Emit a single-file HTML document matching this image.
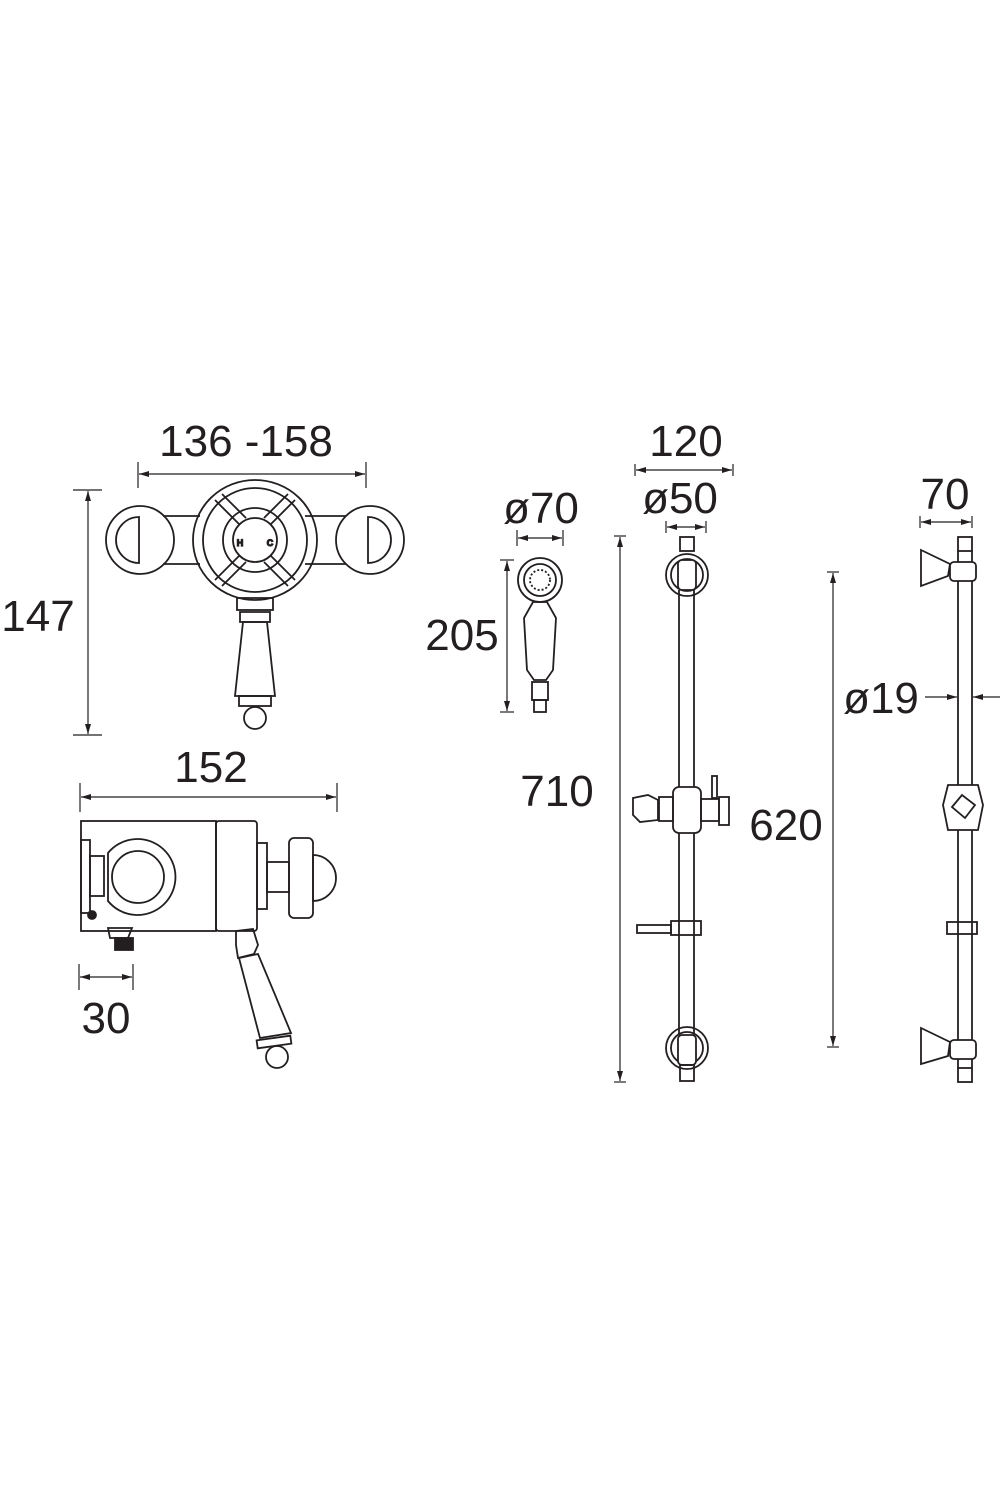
<!DOCTYPE html>
<html><head><meta charset="utf-8"><style>
html,body{margin:0;padding:0;background:#fff}
svg{display:block}
text{font-family:"Liberation Sans",sans-serif;font-size:44px;fill:#231f20;text-anchor:middle}
</style></head><body>
<svg width="1000" height="1500" viewBox="0 0 1000 1500" xmlns="http://www.w3.org/2000/svg">
<defs>
<marker id="a" viewBox="0 0 10 6" refX="10" refY="3" markerWidth="10" markerHeight="6" orient="auto-start-reverse" markerUnits="userSpaceOnUse"><path d="M0,0L10,3L0,6z" fill="#231f20"/></marker>
</defs>
<g stroke="#231f20" fill="none" stroke-width="1.2">
<line x1="139" y1="474" x2="365" y2="474" marker-start="url(#a)" marker-end="url(#a)"/>
<line x1="138" y1="462" x2="138" y2="488"/><line x1="366" y1="462" x2="366" y2="488"/>
<line x1="88" y1="491" x2="88" y2="734" marker-start="url(#a)" marker-end="url(#a)"/>
<line x1="73" y1="490" x2="102" y2="490"/><line x1="73" y1="735" x2="102" y2="735"/>
<line x1="81" y1="797" x2="336" y2="797" marker-start="url(#a)" marker-end="url(#a)"/>
<line x1="80" y1="783" x2="80" y2="812"/><line x1="337" y1="783" x2="337" y2="812"/>
<line x1="80" y1="977" x2="132" y2="977" marker-start="url(#a)" marker-end="url(#a)"/>
<line x1="79" y1="964" x2="79" y2="990"/><line x1="133" y1="964" x2="133" y2="990"/>
<line x1="518" y1="538" x2="562" y2="538" marker-start="url(#a)" marker-end="url(#a)"/>
<line x1="517" y1="530" x2="517" y2="546"/><line x1="563" y1="530" x2="563" y2="546"/>
<line x1="507" y1="561" x2="507" y2="711" marker-start="url(#a)" marker-end="url(#a)"/>
<line x1="500" y1="560" x2="514" y2="560"/><line x1="500" y1="712" x2="514" y2="712"/>
<line x1="636" y1="470" x2="732" y2="470" marker-start="url(#a)" marker-end="url(#a)"/>
<line x1="635" y1="464" x2="635" y2="476"/><line x1="733" y1="464" x2="733" y2="476"/>
<line x1="667" y1="527" x2="705" y2="527" marker-start="url(#a)" marker-end="url(#a)"/>
<line x1="666" y1="521" x2="666" y2="533"/><line x1="706" y1="521" x2="706" y2="533"/>
<line x1="620" y1="537" x2="620" y2="1081" marker-start="url(#a)" marker-end="url(#a)"/>
<line x1="614" y1="536" x2="626" y2="536"/><line x1="614" y1="1082" x2="626" y2="1082"/>
<line x1="833" y1="573" x2="833" y2="1046" marker-start="url(#a)" marker-end="url(#a)"/>
<line x1="827" y1="572" x2="839" y2="572"/><line x1="827" y1="1047" x2="839" y2="1047"/>
<line x1="921" y1="522" x2="971" y2="522" marker-start="url(#a)" marker-end="url(#a)"/>
<line x1="920" y1="516" x2="920" y2="528"/><line x1="972" y1="516" x2="972" y2="528"/>
<line x1="925" y1="697" x2="957" y2="697" marker-end="url(#a)"/>
<line x1="1000" y1="697" x2="973" y2="697" marker-end="url(#a)"/>

<g stroke-width="1.8">
<circle cx="140" cy="540" r="34"/><path d="M139,517 A23,23 0 0 0 139,563 Z"/>
<circle cx="370" cy="540" r="34"/><path d="M368,517 A23,23 0 0 1 368,563 Z"/>
<line x1="163" y1="516" x2="200" y2="516"/><line x1="163" y1="564" x2="200" y2="564"/>
<line x1="305" y1="516" x2="346" y2="516"/><line x1="305" y1="564" x2="346" y2="564"/>
<ellipse cx="255" cy="540" rx="62" ry="60"/><circle cx="255" cy="540" r="52"/>
<circle cx="255" cy="540" r="32"/><circle cx="255" cy="540" r="22"/>
<line x1="215" y1="500" x2="240" y2="525"/><line x1="222" y1="494" x2="246" y2="518"/>
<line x1="295" y1="500" x2="270" y2="525"/><line x1="288" y1="494" x2="264" y2="518"/>
<line x1="215" y1="580" x2="240" y2="555"/><line x1="222" y1="586" x2="246" y2="562"/>
<line x1="295" y1="580" x2="270" y2="555"/><line x1="288" y1="586" x2="264" y2="562"/>
<rect x="237" y="598" width="36" height="12"/>
<path d="M240,612 L270,612 L270,622 L240,622 Z"/>
<path d="M243,622 L267,622 L275,696 L235,696 Z"/>
<rect x="239" y="696" width="32" height="10"/>
<circle cx="255" cy="718" r="11"/>
</g>
<text x="240" y="546" style="font-size:9px;font-weight:bold">H</text>
<text x="270" y="546" style="font-size:9px;font-weight:bold">C</text>
<g stroke-width="1.8">
<rect x="81" y="821" width="135" height="110"/>
<rect x="216" y="821" width="41" height="110" rx="3"/>
<rect x="81" y="840" width="9" height="73"/>
<rect x="90" y="856" width="14" height="40"/>
<path d="M108,853 a38,38 0 1 1 0,48 z"/><circle cx="138" cy="877" r="26"/>
<circle cx="92" cy="915" r="4" fill="#231f20"/>
<rect x="257" y="843" width="10" height="66"/>
<rect x="267" y="862" width="22" height="30"/>
<rect x="289" y="838" width="24" height="80" rx="5"/>
<path d="M313,855 a22,22 0 0 1 0,46 z"/>
<path d="M110,938 L128,938 L132,928 L108,928 Z"/>
<rect x="115" y="938" width="18" height="12" fill="#231f20"/>
<path d="M236,931 L253,929 L258,945 L254,954 L238,958 L236,945 Z"/>
<path d="M239,958 L258,954 L291,1033 L260,1038 Z"/>
<rect x="257" y="1038" width="34" height="8" transform="rotate(-8 274 1042)"/>
<circle cx="277" cy="1057" r="11"/>
</g>
<g stroke-width="1.8">
<circle cx="540" cy="580" r="22"/><circle cx="540" cy="580" r="16"/><circle cx="540" cy="580" r="10" stroke-dasharray="2 2"/>
<path d="M533,602 L547,602 L556,618 L553,670 L546,680 L534,680 L527,670 L524,618 Z"/>
<rect x="532" y="682" width="16" height="18"/>
<rect x="534" y="700" width="12" height="12"/>
</g>
<g stroke-width="1.8">
<rect x="680" y="537" width="14" height="14"/>
<circle cx="687" cy="575" r="21"/><circle cx="687" cy="575" r="16"/>
<rect x="678" y="560" width="18" height="30" rx="4" fill="#fff"/>
<line x1="679" y1="590" x2="679" y2="1035"/><line x1="694" y1="590" x2="694" y2="1035"/>
<rect x="673" y="787" width="28" height="46" rx="6" fill="#fff"/>
<rect x="659" y="797" width="14" height="24"/>
<path d="M633,798 L648,795 L658,800 L658,820 L640,822 L633,815 Z"/>
<rect x="701" y="799" width="18" height="22"/>
<rect x="719" y="797" width="10" height="28"/>
<rect x="712" y="776" width="5" height="22"/>
<rect x="637" y="925" width="34" height="8"/>
<rect x="671" y="921" width="30" height="14"/>
<circle cx="687" cy="1048" r="21"/><circle cx="687" cy="1048" r="16"/>
<rect x="678" y="1035" width="18" height="30" rx="4" fill="#fff"/>
<rect x="680" y="1065" width="14" height="16"/>
</g>
<g stroke-width="1.8">
<rect x="958" y="537" width="14" height="14"/>
<line x1="958" y1="551" x2="958" y2="1068"/><line x1="972" y1="551" x2="972" y2="1068"/>
<path d="M921,550 L921,586 L948,576 L950,564 Z"/>
<rect x="950" y="562" width="26" height="19" rx="4" fill="#fff"/>
<path d="M948,785 L978,785 L983,805 L978,830 L948,830 L943,805 Z" fill="#fff"/>
<path d="M952,807 L962,795 L975,805 L965,818 Z"/>
<rect x="947" y="922" width="30" height="12"/>
<path d="M921,1028 L921,1064 L948,1056 L950,1042 Z"/>
<rect x="950" y="1040" width="26" height="19" rx="4" fill="#fff"/>
<rect x="958" y="1068" width="14" height="14"/>
</g>
</g>
<text x="246" y="456">136 -158</text>
<text x="38" y="631">147</text>
<text x="211" y="782">152</text>
<text x="106" y="1033">30</text>
<text x="541" y="523">ø70</text>
<text x="462" y="650">205</text>
<text x="686" y="456">120</text>
<text x="680" y="513">ø50</text>
<text x="557" y="806">710</text>
<text x="786" y="840">620</text>
<text x="945" y="509">70</text>
<text x="881" y="713">ø19</text>
</svg>
</body></html>
